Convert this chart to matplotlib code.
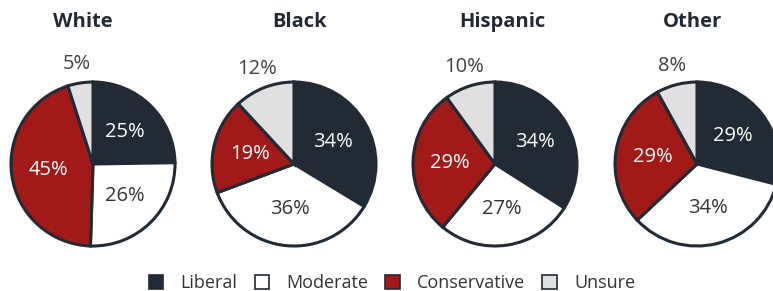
import matplotlib
matplotlib.use("Agg")
import matplotlib.pyplot as plt
import numpy as np
from matplotlib.patches import Patch

plt.rcParams["font.family"] = ["Open Sans", "DejaVu Sans"]

groups = ["White", "Black", "Hispanic", "Other"]
categories = ["Liberal", "Moderate", "Conservative", "Unsure"]
liberal = [25, 34, 34, 29]
moderate = [26, 36, 27, 34]
conservative = [45, 19, 29, 29]
unsure = [5, 12, 10, 8]

COLORS = ["#222a35", "#ffffff", "#a11a17", "#e0e0e0"]
EDGE = "#222a35"
TXT = ["#ffffff", "#333333", "#ffffff", "#404040"]

W, H = 773, 291
fig = plt.figure(figsize=(W / 100, H / 100), dpi=100)

centers_x = [93, 294, 495, 697]
title_x = [83, 300, 502, 692]
cy, r = 127, 82  # pixels from bottom

for i, g in enumerate(groups):
    vals = [liberal[i], moderate[i], conservative[i], unsure[i]]
    ax = fig.add_axes([(centers_x[i] - r) / W, (cy - r) / H, 2 * r / W, 2 * r / H])
    wedges, _ = ax.pie(vals, colors=COLORS, startangle=90, counterclock=False,
                       wedgeprops=dict(edgecolor=EDGE, linewidth=2.2))
    for j, (w, v) in enumerate(zip(wedges, vals)):
        mid = np.deg2rad((w.theta1 + w.theta2) / 2)
        d = 1.24 if j == 3 else 0.55
        ax.text(d * np.cos(mid), d * np.sin(mid), f"{v}%", ha="center", va="center",
                fontsize=14.5, color=TXT[j], clip_on=False)
    ax.set_xlim(-1, 1)
    ax.set_ylim(-1, 1)
    ax.set_aspect("equal")
    ax.axis("off")
    fig.text(title_x[i] / W, 1 - 22 / H, g, ha="center", va="center",
             fontsize=14.5, fontweight="bold", color="#222a35")

handles = [Patch(facecolor=c, edgecolor=EDGE, linewidth=1.2) for c in COLORS]
fig.legend(handles, categories, loc="center", bbox_to_anchor=(392 / W, 8 / H), ncol=4,
           frameon=False, fontsize=13, handlelength=0.8, handleheight=0.8,
           columnspacing=0.95, handletextpad=0.95, labelcolor="#333333",
           borderpad=0, borderaxespad=0)

fig.savefig("out.png", dpi=100)
